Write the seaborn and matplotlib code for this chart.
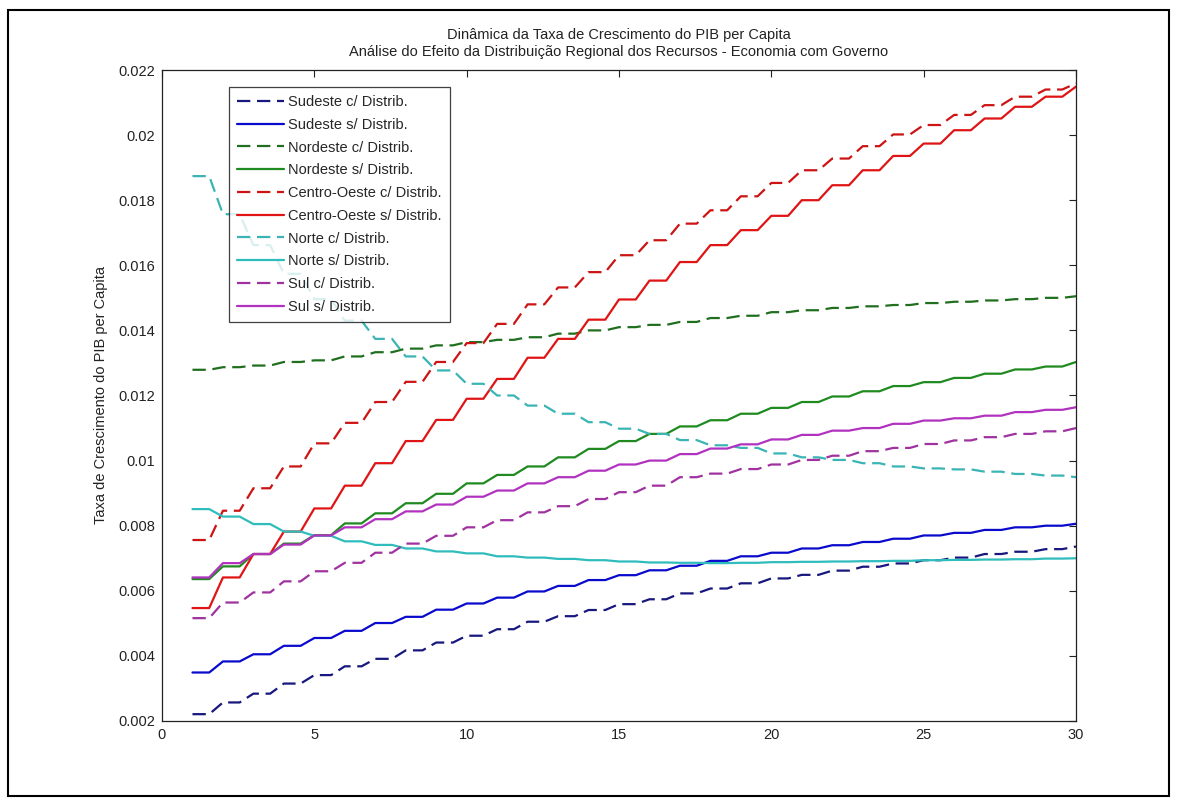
import numpy as np
import pandas as pd
import matplotlib
matplotlib.use("Agg")
import matplotlib.pyplot as plt
import seaborn as sns
from matplotlib.ticker import FuncFormatter
from matplotlib.patches import Rectangle

# annual growth rates, t = 1..30
years = list(range(1, 31))

sudeste_c = [0.00221, 0.00257, 0.00284, 0.00315, 0.00341, 0.00368, 0.00391, 0.00417, 0.00441, 0.00462,
             0.00482, 0.00505, 0.00522, 0.00541, 0.00559, 0.00574, 0.00592, 0.00607, 0.00623, 0.00638,
             0.00649, 0.00662, 0.00674, 0.00684, 0.00694, 0.00702, 0.00713, 0.00720, 0.00728, 0.00736]
sudeste_s = [0.00349, 0.00383, 0.00405, 0.00431, 0.00455, 0.00477, 0.00501, 0.00520, 0.00542, 0.00561,
             0.00579, 0.00598, 0.00615, 0.00633, 0.00648, 0.00663, 0.00677, 0.00692, 0.00706, 0.00717,
             0.00730, 0.00740, 0.00750, 0.00760, 0.00770, 0.00778, 0.00787, 0.00795, 0.00800, 0.00806]
nordeste_c = [0.01279, 0.01287, 0.01292, 0.01303, 0.01308, 0.01320, 0.01333, 0.01344, 0.01354, 0.01364,
              0.01371, 0.01379, 0.01390, 0.01400, 0.01410, 0.01417, 0.01426, 0.01438, 0.01445, 0.01456,
              0.01462, 0.01469, 0.01474, 0.01478, 0.01484, 0.01488, 0.01492, 0.01496, 0.01500, 0.01505]
nordeste_s = [0.00636, 0.00675, 0.00713, 0.00745, 0.00771, 0.00807, 0.00838, 0.00869, 0.00898, 0.00930,
              0.00956, 0.00982, 0.01010, 0.01036, 0.01060, 0.01082, 0.01105, 0.01124, 0.01144, 0.01162,
              0.01180, 0.01197, 0.01213, 0.01229, 0.01241, 0.01254, 0.01267, 0.01280, 0.01289, 0.01303]
centro_c = [0.00756, 0.00846, 0.00915, 0.00982, 0.01053, 0.01116, 0.01180, 0.01242, 0.01303, 0.01361,
            0.01420, 0.01480, 0.01532, 0.01579, 0.01631, 0.01677, 0.01728, 0.01769, 0.01812, 0.01853,
            0.01892, 0.01928, 0.01966, 0.02002, 0.02031, 0.02062, 0.02092, 0.02118, 0.02140, 0.02159]
centro_s = [0.00547, 0.00641, 0.00713, 0.00782, 0.00853, 0.00923, 0.00992, 0.01060, 0.01125, 0.01190,
            0.01251, 0.01316, 0.01374, 0.01433, 0.01495, 0.01553, 0.01610, 0.01662, 0.01708, 0.01752,
            0.01800, 0.01846, 0.01892, 0.01936, 0.01974, 0.02015, 0.02051, 0.02087, 0.02118, 0.02149]
norte_c = [0.01874, 0.01757, 0.01662, 0.01574, 0.01496, 0.01430, 0.01374, 0.01320, 0.01277, 0.01236,
           0.01200, 0.01169, 0.01144, 0.01118, 0.01098, 0.01082, 0.01063, 0.01047, 0.01039, 0.01022,
           0.01010, 0.01002, 0.00992, 0.00982, 0.00976, 0.00973, 0.00966, 0.00959, 0.00954, 0.00949]
norte_s = [0.00851, 0.00828, 0.00805, 0.00782, 0.00769, 0.00752, 0.00741, 0.00730, 0.00721, 0.00715,
           0.00706, 0.00702, 0.00698, 0.00694, 0.00690, 0.00687, 0.00686, 0.00685, 0.00686, 0.00688,
           0.00689, 0.00690, 0.00691, 0.00692, 0.00694, 0.00695, 0.00696, 0.00697, 0.00699, 0.00700]
sul_c = [0.00516, 0.00564, 0.00595, 0.00629, 0.00660, 0.00686, 0.00717, 0.00745, 0.00769, 0.00795,
         0.00817, 0.00841, 0.00860, 0.00882, 0.00903, 0.00923, 0.00949, 0.00960, 0.00974, 0.00988,
         0.01002, 0.01015, 0.01029, 0.01039, 0.01051, 0.01062, 0.01072, 0.01082, 0.01090, 0.01100]
sul_s = [0.00641, 0.00685, 0.00713, 0.00742, 0.00770, 0.00795, 0.00820, 0.00844, 0.00865, 0.00889,
         0.00908, 0.00930, 0.00949, 0.00969, 0.00988, 0.01000, 0.01020, 0.01037, 0.01050, 0.01065,
         0.01079, 0.01092, 0.01100, 0.01113, 0.01123, 0.01130, 0.01138, 0.01149, 0.01156, 0.01164]

labels = ["Sudeste c/ Distrib.", "Sudeste s/ Distrib.", "Nordeste c/ Distrib.", "Nordeste s/ Distrib.",
          "Centro-Oeste c/ Distrib.", "Centro-Oeste s/ Distrib.", "Norte c/ Distrib.", "Norte s/ Distrib.",
          "Sul c/ Distrib.", "Sul s/ Distrib."]
series = [sudeste_c, sudeste_s, nordeste_c, nordeste_s, centro_c, centro_s, norte_c, norte_s, sul_c, sul_s]
colors = ["#17177e", "#0a0acc", "#1f6f1f", "#1f8a1f", "#cc1414", "#e01414",
          "#3ab4b4", "#2fbcbc", "#a032a0", "#b232c0"]
styles = ["--", "-"] * 5

HOLD = 0.55  # each yearly value is held for part of the year (staircase look)
FS = 10.5


def stair(t, v):
    xs, ys = [], []
    for i, (a, b) in enumerate(zip(t, v)):
        xs.append(a)
        ys.append(b)
        if i < len(t) - 1:
            xs.append(a + HOLD)
            ys.append(b)
    return np.array(xs), np.array(ys)


sns.set_style("white")
plt.rcParams["font.family"] = ["Liberation Sans", "DejaVu Sans"]

fig = plt.figure(figsize=(11.77, 8.0), dpi=100)
ax = fig.add_axes([162 / 1177, 1 - 721 / 800, 914 / 1177, 651 / 800])

for lab, vals, col, ls in zip(labels, series, colors, styles):
    xs, ys = stair(years, vals)
    sns.lineplot(x=xs, y=ys, ax=ax, color=col, linewidth=1.6, label=lab,
                 estimator=None, sort=False)
    ax.lines[-1].set_linestyle(ls)
    if ls == "--":
        ax.lines[-1].set_dashes((6, 3))

ax.set_xlim(0, 30)
ax.set_ylim(0.002, 0.022)
ax.set_xticks(range(0, 31, 5))
ax.set_yticks(np.arange(0.002, 0.0221, 0.002))
ax.yaxis.set_major_formatter(FuncFormatter(lambda v, p: f"{v:g}"))
ax.tick_params(direction="in", length=5, width=0.8, top=True, right=True,
               labelsize=FS, colors="#222222", pad=5)
for s in ax.spines.values():
    s.set_color("#222222")
    s.set_linewidth(0.9)
    s.set_visible(True)

ax.set_ylabel("Taxa de Crescimento do PIB per Capita", fontsize=FS, color="#222222", labelpad=7)
ax.set_title("Dinâmica da Taxa de Crescimento do PIB per Capita\n"
             "Análise do Efeito da Distribuição Regional dos Recursos - Economia com Governo",
             fontsize=FS, color="#222222", linespacing=1.3, pad=10)

leg = ax.legend(loc="upper left", bbox_to_anchor=(67 / 914, 1 - 17 / 651), borderaxespad=0,
                fontsize=FS, frameon=True, fancybox=False, edgecolor="#111111",
                handlelength=3.2, handletextpad=0.3, labelspacing=0.6, borderpad=0.55)
leg.get_frame().set_linewidth(0.9)
for h, ls in zip(leg.get_lines(), styles):
    h.set_linestyle(ls)
    if ls == "--":
        h.set_dashes((6, 3))

fig.patches.append(Rectangle((8 / 1177, 4 / 800), 1161 / 1177, 786 / 800,
                             transform=fig.transFigure, fill=False,
                             edgecolor="black", linewidth=1.5))

fig.savefig("out.png", dpi=100)
plt.close(fig)
